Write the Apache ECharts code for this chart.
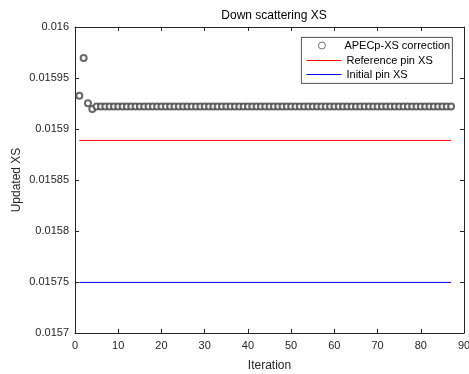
<!DOCTYPE html>
<html>
<head>
<meta charset="utf-8">
<script src="https://cdn.jsdelivr.net/npm/echarts@6/dist/echarts.min.js"></script>
<style>html,body{margin:0;padding:0;background:#fff;}#c{width:469px;height:374px;}</style>
</head>
<body>
<div id="c"></div>
<script>
const titleText = 'Down scattering XS';
const xName = 'Iteration';
const yName = 'Updated XS';
const seriesNames = ['APECp-XS correction', 'Reference pin XS', 'Initial pin XS'];
const xTicks = [0, 10, 20, 30, 40, 50, 60, 70, 80, 90];
const yTicks = [0.0157, 0.01575, 0.0158, 0.01585, 0.0159, 0.01595, 0.016];
const iterations = [1,2,3,4,5,6,7,8,9,10,11,12,13,14,15,16,17,18,19,20,21,22,23,24,25,26,27,28,29,30,31,32,33,34,35,36,37,38,39,40,41,42,43,44,45,46,47,48,49,50,51,52,53,54,55,56,57,58,59,60,61,62,63,64,65,66,67,68,69,70,71,72,73,74,75,76,77,78,79,80,81,82,83,84,85,86,87];
const apecValues = [0.0159326,0.0159696,0.0159252,0.0159196,0.0159220,0.0159221,0.0159221,0.0159221,0.0159221,0.0159221,
0.0159221,0.0159221,0.0159221,0.0159221,0.0159221,0.0159221,0.0159221,0.0159221,0.0159221,0.0159221,
0.0159221,0.0159221,0.0159221,0.0159221,0.0159221,0.0159221,0.0159221,0.0159221,0.0159221,0.0159221,
0.0159221,0.0159221,0.0159221,0.0159221,0.0159221,0.0159221,0.0159221,0.0159221,0.0159221,0.0159221,
0.0159221,0.0159221,0.0159221,0.0159221,0.0159221,0.0159221,0.0159221,0.0159221,0.0159221,0.0159221,
0.0159221,0.0159221,0.0159221,0.0159221,0.0159221,0.0159221,0.0159221,0.0159221,0.0159221,0.0159221,
0.0159221,0.0159221,0.0159221,0.0159221,0.0159221,0.0159221,0.0159221,0.0159221,0.0159221,0.0159221,
0.0159221,0.0159221,0.0159221,0.0159221,0.0159221,0.0159221,0.0159221,0.0159221,0.0159221,0.0159221,
0.0159221,0.0159221,0.0159221,0.0159221,0.0159221,0.0159221,0.0159221];
const refValue = 0.0158888;
const initValue = 0.0157496;

const axisColor = '#262626';
const font = 'Liberation Sans, Arial, sans-serif';
const chart = echarts.init(document.getElementById('c'), null, {renderer: 'canvas'});

const xMin = xTicks[0], xMax = xTicks[xTicks.length - 1];
const yMin = yTicks[0], yMax = yTicks[yTicks.length - 1];
const xInt = xTicks[1] - xTicks[0];
const yInt = yTicks[1] - yTicks[0];

function xAxisCfg(pos, showLabel) {
  return {
    type: 'value', position: pos, min: xMin, max: xMax, interval: xInt,
    name: showLabel ? xName : '', nameLocation: 'middle', nameGap: 27, nameMoveOverlap: false,
    nameTextStyle: {color: axisColor, fontSize: 12, fontFamily: font},
    axisLine: {show: true, onZero: false, lineStyle: {color: axisColor, width: 1}},
    axisTick: {show: true, inside: true, length: 4, lineStyle: {color: axisColor}},
    axisLabel: {show: showLabel, color: axisColor, fontSize: 11, fontFamily: font, margin: 7},
    splitLine: {show: false}
  };
}
function yAxisCfg(pos, showLabel) {
  return {
    type: 'value', position: pos, min: yMin, max: yMax, interval: yInt,
    name: showLabel ? yName : '', nameLocation: 'middle', nameGap: 52, nameMoveOverlap: false,
    nameTextStyle: {color: axisColor, fontSize: 12, fontFamily: font},
    axisLine: {show: true, onZero: false, lineStyle: {color: axisColor, width: 1}},
    axisTick: {show: true, inside: true, length: 4, lineStyle: {color: axisColor}},
    axisLabel: {show: showLabel, color: axisColor, fontSize: 11, fontFamily: font, margin: 6,
      formatter: v => String(+v.toFixed(6))},
    splitLine: {show: false}
  };
}

const option = {
  backgroundColor: '#fff',
  animation: false,
  title: {
    text: titleText, left: 269, top: 5, textAlign: 'center',
    textStyle: {color: '#000', fontSize: 12, fontWeight: 'normal', fontFamily: font}
  },
  grid: {left: 75, right: 5, top: 27, bottom: 41, containLabel: false, outerBoundsMode: 'none'},
  xAxis: [xAxisCfg('bottom', true), xAxisCfg('top', false)],
  yAxis: [yAxisCfg('left', true), yAxisCfg('right', false)],
  graphic: [{
    type: 'rect', left: 301, top: 37, z: 0,
    shape: {width: 151, height: 46},
    style: {fill: '#fff', stroke: axisColor, lineWidth: 0.8}
  }],
  legend: [
    {
      data: [{name: seriesNames[0], icon: 'circle',
        itemStyle: {color: 'rgba(0,0,0,0)', borderColor: '#222', borderWidth: 0.8}}],
      left: 318, top: 40, itemWidth: 7, itemHeight: 7, padding: 0,
      textStyle: {color: '#000', fontSize: 11, fontFamily: font, padding: [0, 0, 0, 14]}
    },
    {
      data: [seriesNames[1], seriesNames[2]], orient: 'vertical',
      left: 306, top: 55, itemWidth: 35, itemHeight: 1, itemGap: 3, padding: 0,
      lineStyle: {width: 1},
      textStyle: {color: '#000', fontSize: 11, fontFamily: font}
    }
  ],
  series: [
    {
      name: seriesNames[0], type: 'scatter', xAxisIndex: 0, yAxisIndex: 0,
      symbol: 'emptyCircle', symbolSize: 6,
      itemStyle: {color: '#444', borderColor: '#444', borderWidth: 0.7},
      data: iterations.map((x, i) => [x, apecValues[i]])
    },
    {
      name: seriesNames[1], type: 'line', showSymbol: false, symbol: 'none',
      lineStyle: {color: '#ff0000', width: 1}, itemStyle: {color: '#ff0000'},
      data: [[iterations[0], refValue], [iterations[iterations.length - 1], refValue]]
    },
    {
      name: seriesNames[2], type: 'line', showSymbol: false, symbol: 'none',
      lineStyle: {color: '#0000ff', width: 1}, itemStyle: {color: '#0000ff'},
      data: [[iterations[0], initValue], [iterations[iterations.length - 1], initValue]]
    }
  ]
};
chart.setOption(option);
</script>
</body>
</html>
